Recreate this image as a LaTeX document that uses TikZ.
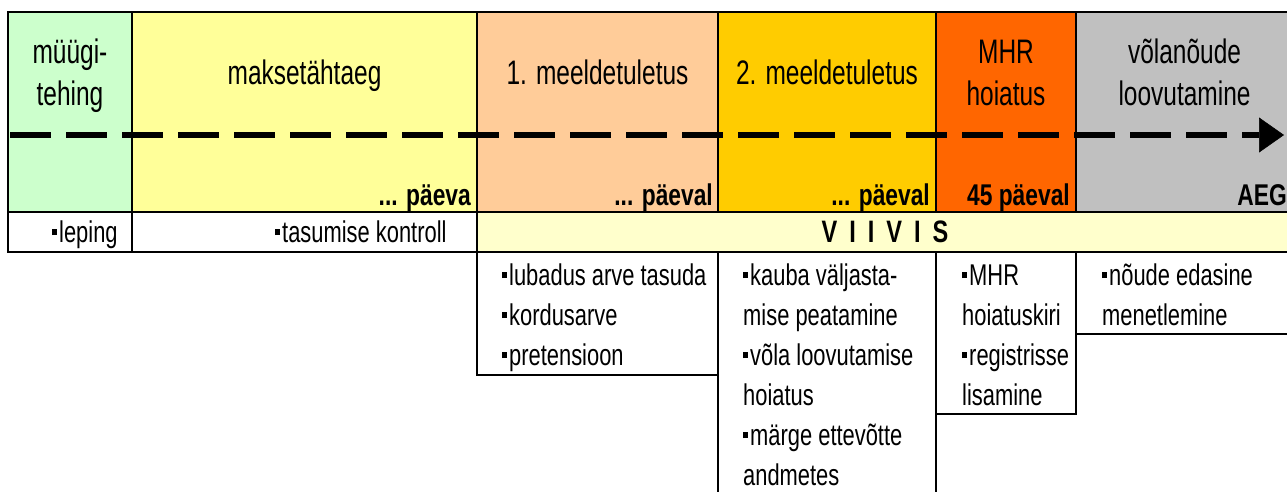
\documentclass[tikz,border=0pt]{standalone}
\usepackage{fontspec}
\setmainfont{Liberation Sans}
\newfontfamily\headfont[FakeStretch=0.72]{Liberation Sans}
\newfontfamily\listfont[FakeStretch=0.73]{Liberation Sans}
\newfontfamily\dayfont[FakeStretch=0.76]{Liberation Sans}
\usetikzlibrary{arrows.meta,positioning,calc}
\definecolor{tgreen}{HTML}{CCFFCC}
\definecolor{tyellow}{HTML}{FFFF99}
\definecolor{tpeach}{HTML}{FFCC99}
\definecolor{tgold}{HTML}{FFCC00}
\definecolor{torange}{HTML}{FF6600}
\definecolor{tgrey}{HTML}{C0C0C0}
\definecolor{tcream}{HTML}{FFFFCC}
\newcommand\bul{\raisebox{7pt}{\rule{5pt}{6pt}}\hspace{2pt}}

\begin{document}
\begin{tikzpicture}[x=1pt,y=-1pt,node distance=0pt,>={Triangle[length=25pt,width=35pt,line width=0.5pt]},
 phase/.style={draw=black,line width=1.3pt,minimum height=200pt,inner sep=0pt,outer sep=0pt},
 cell/.style={draw=black,line width=1.3pt,minimum height=40pt,inner sep=0pt,outer sep=0pt},
 todo/.style={draw=black,line width=1.3pt,inner sep=0pt,outer sep=0pt,anchor=north west},
 head/.style={font=\headfont\fontsize{34}{42}\selectfont,align=center,inner sep=0pt},
 day/.style={font=\dayfont\bfseries\fontsize{30}{36}\selectfont,inner sep=0pt,anchor=base east},
 list/.style={font=\listfont\fontsize{30}{40}\selectfont,align=left,inner sep=0pt},
 timeline/.style={line width=6.5pt,dash pattern=on 41pt off 15pt,->}]
\useasboundingbox (0,0) rectangle (1287,491);
\node[phase,fill=tgreen,minimum width=124pt,anchor=north west](muuk) at (8,12) {};
\node[phase,fill=tyellow,minimum width=345pt,right=of muuk](maks) {};
\node[phase,fill=tpeach,minimum width=241pt,right=of maks](mee1) {};
\node[phase,fill=tgold,minimum width=218pt,right=of mee1](mee2) {};
\node[phase,fill=torange,minimum width=140pt,right=of mee2](mhr) {};
\node[phase,fill=tgrey,minimum width=217pt,right=of mhr](loov) {};
\node[head] at ($(muuk.north)+(0,64)$) {\strut müügi-\\\strut tehing};
\node[head] at ($(maks.north)+(0,64)$) {\strut maksetähtaeg};
\node[head] at ($(mee1.north)+(0,64)$) {\strut 1. meeldetuletus};
\node[head] at ($(mee2.north)+(0,64)$) {\strut 2. meeldetuletus};
\node[head] at ($(mhr.north)+(0,64)$) {\strut MHR\\\strut hoiatus};
\node[head] at ($(loov.north)+(0,64)$) {\strut võlanõude\\\strut loovutamine};
\coordinate (t0) at (10,135);
\coordinate (t1) at (1284,135);
\draw[timeline] (t0) -- (t1);
\node[day] at ($(maks.south east)+(-6,-7)$) {... päeva};
\node[day] at ($(mee1.south east)+(-5,-7)$) {... päeval};
\node[day] at ($(mee2.south east)+(-6,-7)$) {... päeval};
\node[day] at ($(mhr.south east)+(-6,-7)$) {45 päeval};
\node[day] at ($(loov.south east)+(-6,-7)$) {AEG};
\node[cell,fill=white,minimum width=124pt,below=of muuk](lep) {};
\node[cell,fill=white,minimum width=345pt,right=of lep](kontr) {};
\node[cell,fill=tcream,minimum width=816pt,right=of kontr,
 font=\dayfont\bfseries\fontsize{31}{31}\selectfont](viivis) {V\hspace{12pt}I\hspace{12pt}I\hspace{12pt}V\hspace{12pt}I\hspace{12pt}S};
\node[list,anchor=base west] at ($(lep.south west)+(44,-10)$) {\bul leping};
\node[list,anchor=base west] at ($(kontr.south west)+(143,-10)$) {\bul tasumise kontroll};
\node[todo,minimum width=241pt,minimum height=123pt](boxa) at (viivis.south west) {};
\node[todo,minimum width=218pt,minimum height=270pt](boxb) at (boxa.north east) {};
\node[todo,minimum width=140pt,minimum height=162pt](boxc) at (boxb.north east) {};
\node[todo,minimum width=217pt,minimum height=82pt](boxd) at (boxc.north east) {};
\node[list,anchor=north west] at ($(boxa.north west)+(25,5)$) {\strut\bul lubadus arve tasuda\\\bul kordusarve\\\bul pretensioon};
\node[list,anchor=north west] at ($(boxb.north west)+(25,5)$) {\strut\bul kauba väljasta-\\mise peatamine\\\bul võla loovutamise\\hoiatus\\\bul märge ettevõtte\\andmetes};
\node[list,anchor=north west] at ($(boxc.north west)+(26,5)$) {\strut\bul MHR\\hoiatuskiri\\\bul registrisse\\lisamine};
\node[list,anchor=north west] at ($(boxd.north west)+(26,5)$) {\strut\bul nõude edasine\\menetlemine};
\end{tikzpicture}
\end{document}
